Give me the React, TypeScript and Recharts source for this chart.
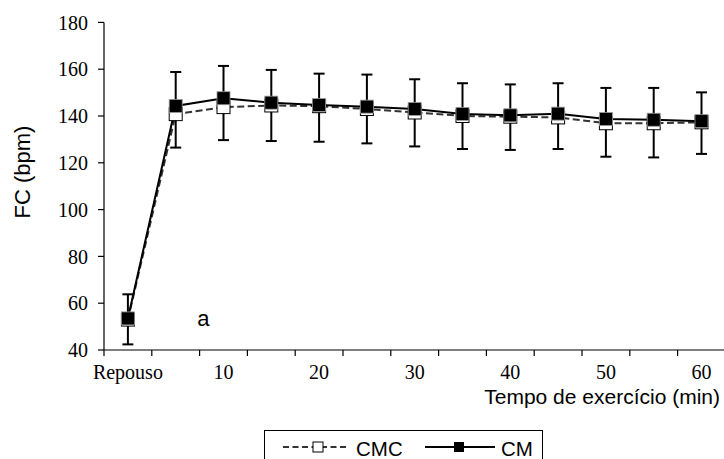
import {
  LineChart,
  Line,
  XAxis,
  YAxis,
  ErrorBar,
  Legend,
  Label,
  ReferenceDot,
} from "recharts";

const SERIF = "'Times New Roman', 'Liberation Serif', serif";
const SANS = "Arial, 'Liberation Sans', sans-serif";

// time points of the exercise protocol
const categories = ["Repouso", "5", "10", "15", "20", "25", "30", "35", "40", "45", "50", "55", "60"];

// heart rate (bpm), mean and SD per group
const cmcMean = [53.0, 140.8, 143.8, 144.5, 144.2, 143.0, 141.5, 140.0, 139.7, 139.4, 136.9, 136.9, 137.3];
const cmcSd = [10.6, 14.3, 14.1, 15.2, 15.2, 14.7, 14.5, 14.1, 14.2, 13.5, 14.3, 14.6, 13.5];
const cmMean = [53.5, 144.3, 147.6, 145.7, 144.7, 144.0, 143.0, 140.9, 140.3, 141.0, 138.7, 138.4, 137.8];
const cmSd = [10.3, 14.5, 13.8, 14.0, 13.4, 13.7, 12.7, 13.1, 13.2, 13.0, 13.3, 13.6, 12.3];

const yTicks = [40, 60, 80, 100, 120, 140, 160, 180];

// CM shows the SD above the mean, CMC below it
const rows = categories.map((label, i) => ({
  idx: i,
  label,
  cmc: cmcMean[i],
  cmcErr: [cmcSd[i], 0],
  cm: cmMean[i],
  cmErr: [0, cmSd[i]],
}));

// tick marks sit on category boundaries, labels on every other category centre
const xTicks = [
  ...categories.map((_, i) => i - 0.5),
  categories.length - 0.5,
  ...categories.map((_, i) => i).filter((i) => i % 2 === 0),
];

function XTick(props: any) {
  const { x, y, payload } = props;
  const v = payload.value as number;
  if (Number.isInteger(v)) {
    return (
      <text x={x} y={y + 29} textAnchor="middle" fontFamily={SERIF} fontSize={20} fill="#000">
        {categories[v]}
      </text>
    );
  }
  return <line x1={x} y1={y} x2={x} y2={y + 6} stroke="#000" strokeWidth={1.2} />;
}

function WhiteSquare(props: any) {
  const { cx, cy, index } = props;
  return (
    <rect key={`w${index}`} x={cx - 6.5} y={cy - 6.5} width={13} height={13} fill="#fff" stroke="#000" strokeWidth={1} />
  );
}

function BlackSquare(props: any) {
  const { cx, cy, index } = props;
  return (
    <rect key={`b${index}`} x={cx - 6.5} y={cy - 6.5} width={13} height={13} fill="#000" stroke="#9a9a9a" strokeWidth={0.8} />
  );
}

function LegendBox() {
  return (
    <div
      style={{
        width: 279,
        height: 42,
        border: "1.3px solid #000",
        boxSizing: "border-box",
        background: "#fff",
      }}
    >
      <svg width={277} height={40} style={{ display: "block" }}>
        <line x1={18} y1={16} x2={82} y2={16} stroke="#333" strokeWidth={2} strokeDasharray="6 3.5" />
        <rect x={48} y={11} width={10} height={10} fill="#fff" stroke="#000" strokeWidth={1} />
        <text x={91} y={24.7} fontFamily={SANS} fontSize={20.5} fill="#000">
          CMC
        </text>
        <line x1={160} y1={16} x2={230} y2={16} stroke="#000" strokeWidth={2} />
        <rect x={189} y={11} width={10} height={10} fill="#000" />
        <text x={236} y={24.7} fontFamily={SANS} fontSize={20.5} fill="#000">
          CM
        </text>
      </svg>
    </div>
  );
}

export default function App() {
  return (
    <div
      style={{
        position: "fixed",
        left: 0,
        top: 0,
        width: 724,
        height: 459,
        overflow: "hidden",
        background: "#fff",
      }}
    >
      <LineChart
        width={740}
        height={480}
        data={rows}
        margin={{ top: 22.4, right: 14.6, bottom: 70, left: 0 }}
      >
        <XAxis
          dataKey="idx"
          type="number"
          domain={[-0.5, categories.length - 0.5]}
          ticks={xTicks}
          interval={0}
          tick={<XTick />}
          tickLine={false}
          tickSize={0}
          tickMargin={0}
          height={60}
          axisLine={{ stroke: "#000", strokeWidth: 1.2 }}
        >
          <Label
            content={() => (
              <text x={720} y={404} textAnchor="end" fontFamily={SANS} fontSize={21} fill="#000">
                Tempo de exercício (min)
              </text>
            )}
          />
        </XAxis>
        <YAxis
          type="number"
          domain={[40, 180]}
          ticks={yTicks}
          interval={0}
          width={104}
          tickSize={6}
          tickMargin={10}
          axisLine={{ stroke: "#000", strokeWidth: 1.2 }}
          tickLine={{ stroke: "#000", strokeWidth: 1.2 }}
          tick={{ fill: "#000", fontSize: 20, fontFamily: SERIF }}
        >
          <Label
            content={() => (
              <text
                x={22}
                y={172}
                transform="rotate(-90 22 172)"
                textAnchor="middle"
                dominantBaseline="central"
                fontFamily={SANS}
                fontSize={22}
                fill="#000"
              >
                FC (bpm)
              </text>
            )}
          />
        </YAxis>
        <ReferenceDot
          x={1.58}
          y={50.3}
          shape={(p: any) => (
            <text x={p.cx} y={p.cy} textAnchor="middle" fontFamily={SANS} fontSize={22} fill="#000">
              a
            </text>
          )}
        />
        <Line
          dataKey="cmc"
          name="CMC"
          stroke="#333"
          strokeWidth={2}
          strokeDasharray="7 3.5"
          dot={<WhiteSquare />}
          activeDot={false}
          isAnimationActive={false}
        >
          <ErrorBar dataKey="cmcErr" width={5.5} stroke="#000" strokeWidth={2} />
        </Line>
        <Line
          dataKey="cm"
          name="CM"
          stroke="#000"
          strokeWidth={2}
          dot={<BlackSquare />}
          activeDot={false}
          isAnimationActive={false}
        >
          <ErrorBar dataKey="cmErr" width={5.5} stroke="#000" strokeWidth={2} />
        </Line>
        <Legend
          layout="horizontal"
          verticalAlign="middle"
          align="center"
          wrapperStyle={{ top: 430, left: 264, width: 279 }}
          content={<LegendBox />}
        />
      </LineChart>
    </div>
  );
}
